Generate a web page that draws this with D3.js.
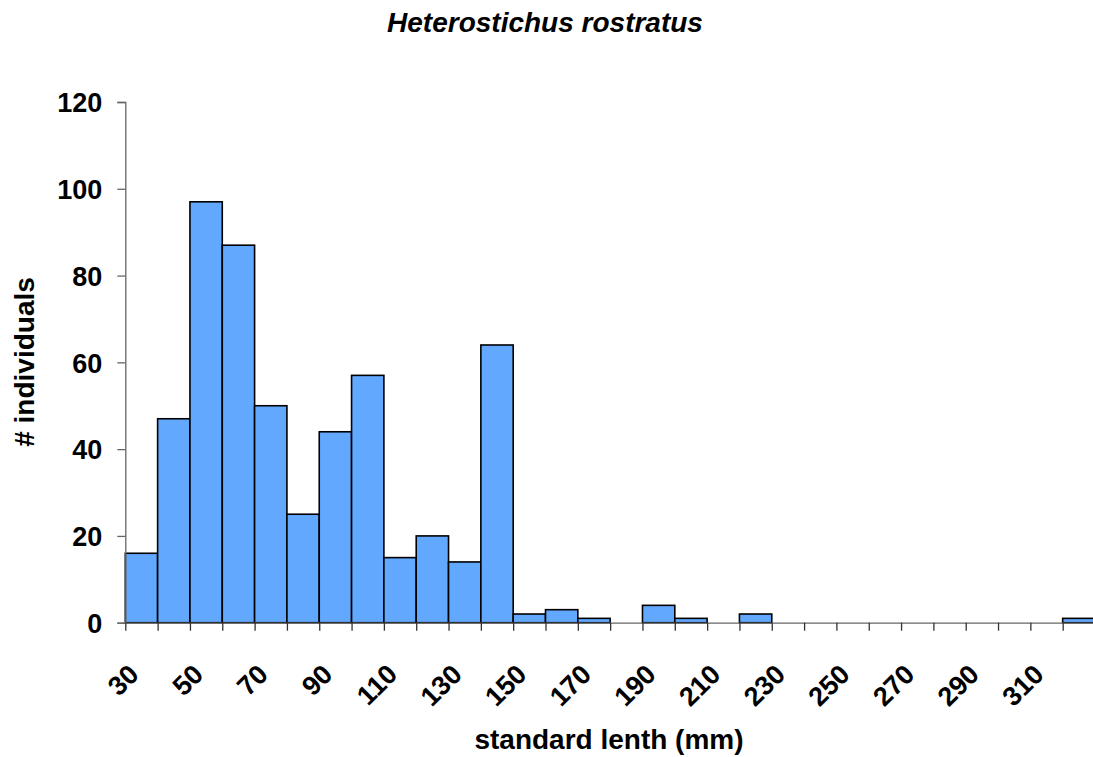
<!DOCTYPE html>
<html><head><meta charset="utf-8">
<script src="https://cdn.jsdelivr.net/npm/d3@7/dist/d3.min.js"></script>
<style>
body{margin:0;background:#fff;}
svg{display:block;font-family:"Liberation Sans",Arial,sans-serif;}
</style></head>
<body>
<svg id="chart" width="1093" height="757"></svg>
<script>
const binStarts = [30,40,50,60,70,80,90,100,110,120,130,140,150,160,170,180,190,200,210,220,230,240,250,260,270,280,290,300,310,320];
const counts    = [16,47,97,87,50,25,44,57,15,20,14,64,2,3,1,0,4,1,0,2,0,0,0,0,0,0,0,0,0,1];
const binWidth = 10;
const xTickLabels = [30,50,70,90,110,130,150,170,190,210,230,250,270,290,310];
const yTicks = [0,20,40,60,80,100,120];
const title = "Heterostichus rostratus";
const xTitle = "standard lenth (mm)";
const yTitle = "# individuals";

const svg = d3.select("#chart");
const x = d3.scaleLinear().domain([30,330]).range([125.3,1095]);
const y = d3.scaleLinear().domain([0,120]).range([622.7,102]);

// bars
svg.append("g").selectAll("rect").data(binStarts.map((b,i)=>({b,c:counts[i]})).filter(d=>d.c>0))
  .join("rect")
  .attr("x",d=>x(d.b)).attr("width",d=>x(d.b+binWidth)-x(d.b))
  .attr("y",d=>y(d.c)).attr("height",d=>y(0)-y(d.c))
  .attr("fill","#62a8fe").attr("stroke","#000").attr("stroke-width",1.6);

// y axis
const ya = svg.append("g").attr("transform",`translate(${x(30)},0)`)
  .call(d3.axisLeft(y).tickValues(yTicks).tickSize(8).tickPadding(15).tickFormat(d3.format("d")));
ya.select(".domain").attr("stroke","#666").attr("stroke-width",1.3);
ya.selectAll(".tick line").attr("stroke","#666").attr("stroke-width",1.3);
ya.selectAll("text").attr("font-size",27).attr("font-weight","bold").attr("fill","#000")
  .attr("font-family","'Liberation Sans',Arial,sans-serif").attr("dy","0.36em");

// x axis
const allTicks = d3.range(30,331,10);
const xa = svg.append("g").attr("transform",`translate(0,${y(0)})`)
  .call(d3.axisBottom(x).tickValues(allTicks).tickSize(8).tickSizeOuter(0).tickFormat(""));
xa.select(".domain").attr("stroke","#666").attr("stroke-width",1.3);
xa.selectAll(".tick line").attr("stroke","#333").attr("stroke-width",1.3);

svg.append("g").selectAll("text").data(xTickLabels).join("text")
  .attr("transform",d=>`translate(${x(d)+15},676) rotate(-45)`)
  .attr("text-anchor","end")
  .attr("font-size",27).attr("font-weight","bold").attr("fill","#000")
  .text(d=>d);

// titles
svg.append("text").attr("x",545).attr("y",31.5).attr("text-anchor","middle")
  .attr("font-size",28).attr("font-weight","bold").attr("font-style","italic").text(title);
svg.append("text").attr("x",609).attr("y",749).attr("text-anchor","middle")
  .attr("font-size",28).attr("font-weight","bold").text(xTitle);
svg.append("text").attr("transform","translate(34,362) rotate(-90)").attr("text-anchor","middle")
  .attr("font-size",28).attr("font-weight","bold").text(yTitle);
</script>
</body></html>
